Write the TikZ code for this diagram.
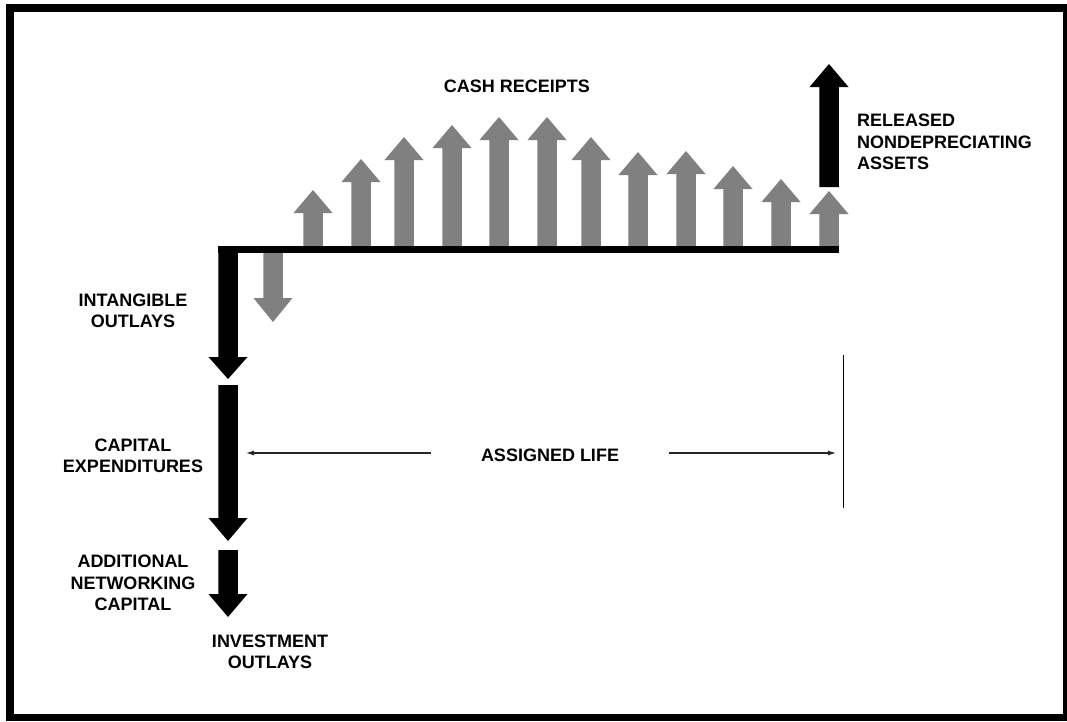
\documentclass[tikz,border=0pt]{standalone}
\usepackage{fontspec}
\setmainfont{Liberation Sans}
\usetikzlibrary{arrows.meta}

\definecolor{cashgray}{RGB}{128,128,128}

% block arrow: x, start y, head base y, tip y, colour
\newcommand{\blockarr}[5]{%
  \fill[#5] (#1-9.75,#2) -- (#1-9.75,#3) -- (#1-19.5,#3) -- (#1,#4) -- (#1+19.5,#3) -- (#1+9.75,#3) -- (#1+9.75,#2) -- cycle;}

\begin{document}
\begin{tikzpicture}[x=1pt,y=-1pt,
  lbl/.style={font=\bfseries\fontsize{18}{21.5}\selectfont,align=center,inner sep=0pt},
  life/.style={draw=black!85,line width=1.1pt,-{Latex[length=8pt,width=5pt]}}]
\useasboundingbox (0,0) rectangle (1067,721);
% frame
\fill[black] (6,4) rectangle (1067,721);
\fill[white] (14,12) rectangle (1063,714);
% cash receipts
\foreach \x/\t in {313/190,361/159,404/137,452/125,499/117,547/117,591/137,638/152,686/151,733/166,781/179,829/191}
  {\blockarr{\x}{249}{\t+23}{\t}{cashgray}}
\blockarr{273}{249}{298}{322}{cashgray}
% time line
\fill[black] (218,246) rectangle (839,253);
% outlays
\blockarr{228}{246}{357}{379}{black}
\blockarr{228}{385}{518}{541}{black}
\blockarr{228}{550}{594}{617}{black}
\blockarr{829}{187}{87}{64}{black}
% labels
\node[lbl] (cash) at (517,86) {CASH RECEIPTS};
\node[lbl,align=left,anchor=west] (released) at (857,142) {RELEASED\\NONDEPRECIATING\\ASSETS};
\node[lbl] (intang) at (133,311) {INTANGIBLE\\OUTLAYS};
\node[lbl] (capex) at (133,456) {CAPITAL\\EXPENDITURES};
\node[lbl] (netcap) at (133,583) {ADDITIONAL\\NETWORKING\\CAPITAL};
\node[lbl] (invest) at (270,652) {INVESTMENT\\OUTLAYS};
% assigned life
\node[lbl,minimum width=238pt] (life) at (550,455) {ASSIGNED LIFE};
\coordinate (lifeL) at (246,453);
\coordinate (lifeR) at (836,453);
\coordinate (endtop) at (843,355);
\coordinate (endbot) at (843,508);
\draw[life] (lifeL -| life.west) -- (lifeL);
\draw[life] (lifeR -| life.east) -- (lifeR);
\draw[line width=1pt] (endtop) -- (endbot);
\end{tikzpicture}
\end{document}
